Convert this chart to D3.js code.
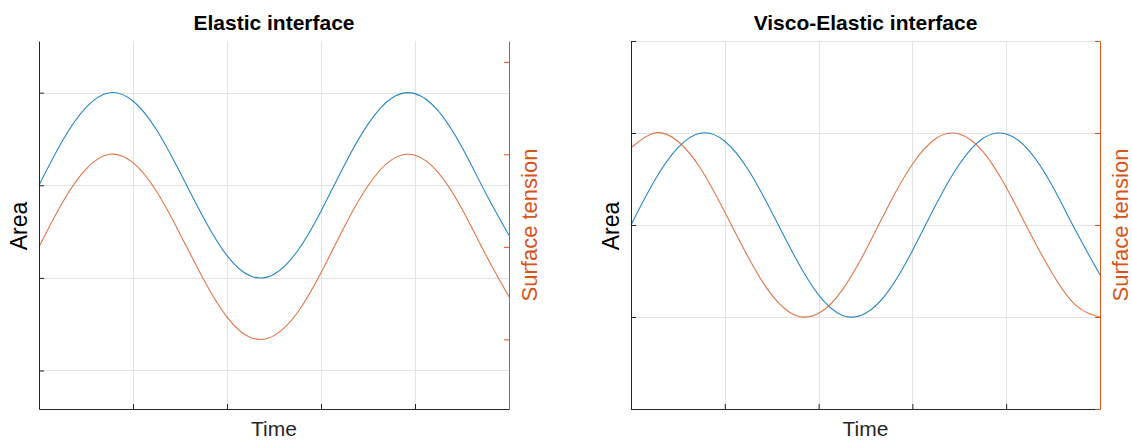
<!DOCTYPE html>
<html>
<head>
<meta charset="utf-8">
<script src="https://cdn.jsdelivr.net/npm/d3@7"></script>
<style>
  html, body { margin: 0; padding: 0; background: #fff; }
  svg { display: block; font-family: "Liberation Sans", Arial, Helvetica, sans-serif; }
</style>
</head>
<body>
<svg id="chart" width="1132" height="441"></svg>
<script>
// Sample times (shared by every series)
const time = [0, 0.25, 0.5, 0.75, 1, 1.25, 1.5, 1.75, 2, 2.25, 2.5, 2.75, 3,
              3.25, 3.5, 3.75, 4, 4.25, 4.5, 4.75, 5];

// Elastic interface: area and surface tension oscillate in phase
const elasticArea    = [0, 0.48, 0.84, 1.00, 0.91, 0.60, 0.14, -0.35, -0.76, -0.98, -0.96,
                        -0.71, -0.28, 0.22, 0.66, 0.94, 0.99, 0.80, 0.41, -0.08, -0.54];
const elasticTension = [0, 0.48, 0.84, 1.00, 0.91, 0.60, 0.14, -0.35, -0.76, -0.98, -0.96,
                        -0.71, -0.28, 0.22, 0.66, 0.94, 0.99, 0.80, 0.41, -0.08, -0.54];

// Visco-elastic interface: surface tension leads the area
const viscoArea      = [0, 0.48, 0.84, 1.00, 0.91, 0.60, 0.14, -0.35, -0.76, -0.98, -0.96,
                        -0.71, -0.28, 0.22, 0.66, 0.94, 0.99, 0.80, 0.41, -0.08, -0.54];
const viscoTension   = [0.84, 1.00, 0.91, 0.60, 0.14, -0.35, -0.76, -0.98, -0.96, -0.71,
                        -0.28, 0.22, 0.66, 0.94, 0.99, 0.80, 0.41, -0.08, -0.54, -0.88, -1.00];

// Axis ranges and ticks
const timeDomain = [0, 5];
const timeTicks  = [0, 1, 2, 3, 4, 5];
const elasticAreaDomain    = [-2.416, 1.558];
const elasticAreaTicks     = [-2, -1, 0, 1];
const elasticTensionDomain = [-1.753, 2.225];
const elasticTensionTicks  = [-1, 0, 1, 2];
const viscoAreaDomain      = [-2, 2];
const viscoAreaTicks       = [-2, -1, 0, 1, 2];
const viscoTensionDomain   = [-2, 2];
const viscoTensionTicks    = [-2, -1, 0, 1, 2];

const titles = ["Elastic interface", "Visco-Elastic interface"];
const xLabel = "Time";
const yLeftLabel = "Area";
const yRightLabel = "Surface tension";

const BLUE = "#0072BD";
const ORANGE = "#D95319";
const AXIS = "#262626";
const GRID = "#e3e3e3";

const svg = d3.select("#chart");

function drawPanel(opts) {
  const { left, right, top, bottom } = opts;
  const g = svg.append("g");

  const x = d3.scaleLinear().domain(timeDomain).range([left, right]);
  const yL = d3.scaleLinear().domain(opts.areaDomain).range([bottom, top]);
  const yR = d3.scaleLinear().domain(opts.tensionDomain).range([bottom, top]);

  // grid
  const grid = g.append("g").attr("stroke", GRID).attr("stroke-width", 1).attr("shape-rendering", "crispEdges");
  grid.selectAll("line.v").data(timeTicks.filter(t => t > timeDomain[0] && t < timeDomain[1]))
    .join("line").attr("class", "v")
    .attr("x1", d => Math.round(x(d)) + 0.5).attr("x2", d => Math.round(x(d)) + 0.5)
    .attr("y1", top).attr("y2", bottom);
  grid.selectAll("line.h").data(opts.areaTicks.filter(t => yL(t) >= top - 0.5 && yL(t) < bottom - 1))
    .join("line").attr("class", "h")
    .attr("x1", left).attr("x2", right)
    .attr("y1", d => Math.round(yL(d)) + 0.5).attr("y2", d => Math.round(yL(d)) + 0.5);

  // series
  const line = (ys, vals) => d3.line()
    .x((d, i) => x(time[i]))
    .y(d => ys(d))
    .curve(d3.curveNatural)(vals);

  g.append("path").attr("d", line(yL, opts.area))
    .attr("fill", "none").attr("stroke", BLUE).attr("stroke-width", 1.1).attr("stroke-opacity", 0.85);
  g.append("path").attr("d", line(yR, opts.tension))
    .attr("fill", "none").attr("stroke", ORANGE).attr("stroke-width", 1.1).attr("stroke-opacity", 0.8);

  // axes (ticks pointing inward, no labels)
  const xAxis = d3.axisBottom(x).tickValues(timeTicks).tickSizeInner(-5).tickSizeOuter(0).tickFormat("");
  const ax = g.append("g").attr("transform", `translate(0,${bottom})`).call(xAxis);
  ax.selectAll("path, line").attr("stroke", AXIS);

  const yAxisL = d3.axisLeft(yL).tickValues(opts.areaTicks).tickSizeInner(-5).tickSizeOuter(0).tickFormat("");
  const al = g.append("g").attr("transform", `translate(${left},0)`).call(yAxisL);
  al.selectAll("path, line").attr("stroke", AXIS);

  const yAxisR = d3.axisRight(yR).tickValues(opts.tensionTicks).tickSizeInner(-5).tickSizeOuter(0).tickFormat("");
  const ar = g.append("g").attr("transform", `translate(${right},0)`).call(yAxisR);
  ar.selectAll("path, line").attr("stroke", ORANGE);

  // labels
  const cx = (left + right) / 2;
  const cy = (top + bottom) / 2;
  g.append("text").attr("x", cx).attr("y", 30).attr("text-anchor", "middle")
    .attr("font-size", 21).attr("font-weight", "bold").attr("fill", "#000").text(opts.title);
  g.append("text").attr("x", cx).attr("y", 436).attr("text-anchor", "middle")
    .attr("font-size", 21).attr("fill", AXIS).text(xLabel);
  g.append("text").attr("transform", `translate(${left - 12},${cy + 1}) rotate(-90)`)
    .attr("text-anchor", "middle").attr("font-size", 23).attr("fill", "#000").text(yLeftLabel);
  g.append("text").attr("transform", `translate(${right + 28},${cy}) rotate(-90)`)
    .attr("text-anchor", "middle").attr("font-size", 22).attr("fill", ORANGE).text(yRightLabel);
}

drawPanel({
  left: 39, right: 509, top: 41, bottom: 409,
  title: titles[0],
  area: elasticArea, tension: elasticTension,
  areaDomain: elasticAreaDomain, areaTicks: elasticAreaTicks,
  tensionDomain: elasticTensionDomain, tensionTicks: elasticTensionTicks
});

drawPanel({
  left: 631, right: 1100, top: 41, bottom: 409,
  title: titles[1],
  area: viscoArea, tension: viscoTension,
  areaDomain: viscoAreaDomain, areaTicks: viscoAreaTicks,
  tensionDomain: viscoTensionDomain, tensionTicks: viscoTensionTicks
});
</script>
</body>
</html>
